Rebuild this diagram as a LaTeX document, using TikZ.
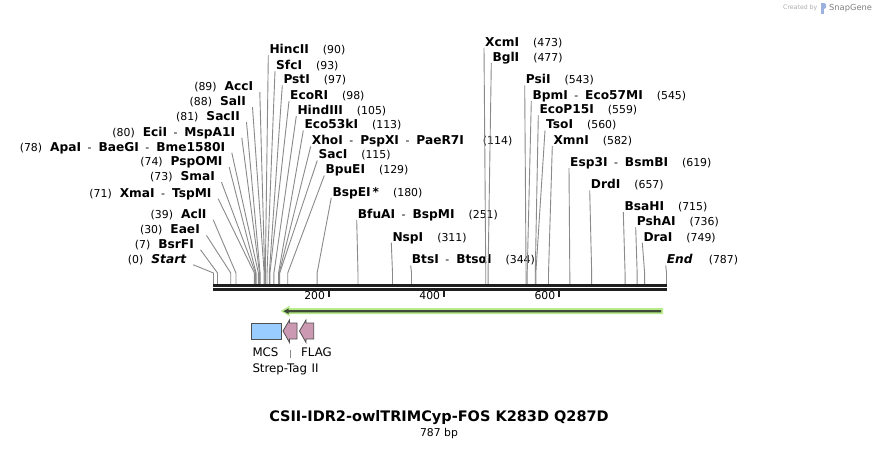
\documentclass[tikz,border=0pt]{standalone}
\usepackage{fontspec}
\setmainfont{DejaVu Sans}
\definecolor{linegray}{HTML}{8A8A8A}
\definecolor{halo}{RGB}{183,235,140}
\definecolor{darkline}{HTML}{3E4A36}
\definecolor{mcsblue}{HTML}{99CCFF}
\definecolor{flagpink}{HTML}{CC99B2}
\definecolor{outl}{HTML}{505050}
\newcommand{\bpn}[1]{{\fontsize{10.9}{12}\selectfont #1}}
\newcommand{\sepdash}{\hspace{6.5pt}{\mdseries\fontsize{10.9}{12}\selectfont -}\hspace{7pt}}
\newcommand{\LSite}[5]{%
  \node[llab] (#1) at ({#2+6.5},#3) {#4};
  \coordinate (#1c) at ({213.5+#5*0.5756},273);
  \coordinate (#1b) at ({213.5+#5*0.5756},284);
  \draw[conn] (#1.south east) -- (#1c) -- (#1b);}
\newcommand{\RSite}[5]{%
  \node[rlab] (#1) at ({#2-1},#3) {#4};
  \coordinate (#1c) at ({213.5+#5*0.5756},273);
  \coordinate (#1b) at ({213.5+#5*0.5756},284);
  \draw[conn] (#1.south west) -- (#1c) -- (#1b);}
\tikzset{
  lab/.style={inner ysep=0pt, text height=9pt, text depth=1.5pt, font=\fontsize{12.2}{13}\selectfont},
  rlab/.style={lab, anchor=west, inner xsep=1pt},
  llab/.style={lab, anchor=east, inner xsep=6.5pt},
  conn/.style={draw=linegray, line width=0.9pt},
  featlab/.style={anchor=west, inner sep=0pt, font=\fontsize{11.8}{13}\selectfont},
  ticklab/.style={anchor=east, inner sep=0pt, font=\fontsize{10.8}{12}\selectfont},
}
\begin{document}
\begin{tikzpicture}[x=1pt,y=-1pt]
\useasboundingbox (0,0) rectangle (880,450);
\fill[white] (0,0) rectangle (880,450);

% left-hand labels
\LSite{l1}{253.3}{86.7}{\bpn{(89)}\hspace{8pt}\textbf{AccI}}{89}
\LSite{l2}{246}{101.7}{\bpn{(88)}\hspace{8pt}\textbf{SalI}}{88}
\LSite{l3}{240}{116.7}{\bpn{(81)}\hspace{8pt}\textbf{SacII}}{81}
\LSite{l4}{235.3}{132.3}{\bpn{(80)}\hspace{8pt}\textbf{EciI}\sepdash\textbf{MspA1I}}{80}
\LSite{l5}{225.3}{147.3}{\bpn{(78)}\hspace{8pt}\textbf{ApaI}\sepdash\textbf{BaeGI}\sepdash\textbf{Bme1580I}}{78}
\LSite{l6}{222.7}{161.7}{\bpn{(74)}\hspace{8pt}\textbf{PspOMI}}{74}
\LSite{l7}{215}{176.7}{\bpn{(73)}\hspace{8pt}\textbf{SmaI}}{73}
\LSite{l8}{211.7}{193.3}{\bpn{(71)}\hspace{8pt}\textbf{XmaI}\sepdash\textbf{TspMI}}{71}
\LSite{l9}{206.7}{214.3}{\bpn{(39)}\hspace{8pt}\textbf{AclI}}{39}
\LSite{l10}{200}{230}{\bpn{(30)}\hspace{8pt}\textbf{EaeI}}{30}
\LSite{l11}{194}{244.3}{\bpn{(7)}\hspace{8pt}\textbf{BsrFI}}{7}
\LSite{l12}{186.7}{259.3}{\bpn{(0)}\hspace{8pt}\textbf{\itshape Start}}{0}

% right-hand labels
\RSite{r1}{269.3}{50}{\textbf{HincII}\hspace{14pt}\bpn{(90)}}{90}
\RSite{r2}{276}{65.7}{\textbf{SfcI}\hspace{14pt}\bpn{(93)}}{93}
\RSite{r3}{283.3}{80}{\textbf{PstI}\hspace{14pt}\bpn{(97)}}{97}
\RSite{r4}{290}{95.7}{\textbf{EcoRI}\hspace{14pt}\bpn{(98)}}{98}
\RSite{r5}{297.3}{110.7}{\textbf{HindIII}\hspace{14pt}\bpn{(105)}}{105}
\RSite{r6}{304.3}{125}{\textbf{Eco53kI}\hspace{14pt}\bpn{(113)}}{113}
\RSite{r7}{311.7}{141}{\textbf{XhoI}\sepdash\textbf{PspXI}\sepdash\textbf{PaeR7I}\hspace{19pt}\bpn{(114)}}{114}
\RSite{r8}{318.3}{155}{\textbf{SacI}\hspace{14pt}\bpn{(115)}}{115}
\RSite{r9}{325.3}{170}{\textbf{BpuEI}\hspace{14pt}\bpn{(129)}}{129}
\RSite{r10}{332.3}{192.3}{\textbf{BspEI\,*}\hspace{14pt}\bpn{(180)}}{180}
\RSite{r11}{357.7}{214.3}{\textbf{BfuAI}\sepdash\textbf{BspMI}\hspace{14pt}\bpn{(251)}}{251}
\RSite{r12}{392.3}{237.3}{\textbf{NspI}\hspace{14pt}\bpn{(311)}}{311}
\RSite{r13}{411.7}{260}{\textbf{BtsI}\sepdash\textbf{BtsαI}\hspace{14pt}\bpn{(344)}}{344}
\RSite{r14}{485}{42.3}{\textbf{XcmI}\hspace{14pt}\bpn{(473)}}{473}
\RSite{r15}{492.3}{57.7}{\textbf{BglI}\hspace{14pt}\bpn{(477)}}{477}
\RSite{r16}{525.7}{80}{\textbf{PsiI}\hspace{14pt}\bpn{(543)}}{543}
\RSite{r17}{532.3}{95.7}{\textbf{BpmI}\sepdash\textbf{Eco57MI}\hspace{14pt}\bpn{(545)}}{545}
\RSite{r18}{539.3}{110}{\textbf{EcoP15I}\hspace{14pt}\bpn{(559)}}{559}
\RSite{r19}{546}{125}{\textbf{TsoI}\hspace{14pt}\bpn{(560)}}{560}
\RSite{r20}{553.3}{140.7}{\textbf{XmnI}\hspace{14pt}\bpn{(582)}}{582}
\RSite{r21}{570}{162.7}{\textbf{Esp3I}\sepdash\textbf{BsmBI}\hspace{14pt}\bpn{(619)}}{619}
\RSite{r22}{590.7}{185}{\textbf{DrdI}\hspace{14pt}\bpn{(657)}}{657}
\RSite{r23}{624.3}{206.7}{\textbf{BsaHI}\hspace{14pt}\bpn{(715)}}{715}
\RSite{r24}{636.7}{221.7}{\textbf{PshAI}\hspace{14pt}\bpn{(736)}}{736}
\RSite{r25}{643.3}{237.3}{\textbf{DraI}\hspace{14pt}\bpn{(749)}}{749}
\RSite{r26}{666.7}{260}{\textbf{\itshape End}\hspace{16pt}\bpn{(787)}}{787}

% sequence bar
\fill[black!88] (213,284) rectangle (667,287);
\fill[black!88] (213,288) rectangle (667,291);
% scale ticks
\foreach \p/\t in {200/200,400/400,600/600}{
  \coordinate (tk\p) at ({213.5+\p*0.5756},291);
  \draw[line width=1.8pt, black!88] (tk\p) -- ++(0,6);
  \node[ticklab] at ({213.5+\p*0.5756-3.5},296) {\t};
}

% long arrow (reverse direction)
\fill[halo] (280.5,311) -- (289.5,305.8) -- (289.5,308) -- (663,308) -- (663,314) -- (289.5,314) -- (289.5,316.2) -- cycle;
\fill[darkline] (283.3,311.2) -- (288.6,308.4) -- (288.6,310) -- (661,310) -- (661,312.4) -- (288.6,312.4) -- (288.6,314) -- cycle;

% features
\draw[outl, fill=mcsblue, line width=0.8pt] (251,323) rectangle (281.5,339);
\draw[outl, fill=flagpink, line width=0.8pt] (283,331) -- (289.5,320) -- (289.5,323) -- (297,323) -- (297,339) -- (289.5,339) -- (289.5,342.5) -- cycle;
\draw[outl, fill=flagpink, line width=0.8pt] (299.5,331) -- (306,320) -- (306,323) -- (313.7,323) -- (313.7,339) -- (306,339) -- (306,342.5) -- cycle;

\node[featlab] (mcs) at (252.3,352.3) {MCS};
\node[featlab] (flag) at (301,352.3) {FLAG};
\node[featlab] (strep) at (252.3,369) {Strep-Tag\hspace{4.5pt}II};
\coordinate (stA) at (290.3,349.5);
\coordinate (stB) at (290.3,357.5);
\draw[linegray, line width=0.8pt] (stA) -- (stB);

% title
\node[inner sep=0pt, font=\bfseries\fontsize{14.5}{16}\selectfont] (title) at (439,418) {CSII-IDR2-owlTRIMCyp-FOS K283D Q287D};
\node[inner sep=0pt, font=\fontsize{10.8}{12}\selectfont] (bp) at (439,434) {787 bp};

% credit
\node[anchor=west, inner sep=0pt, text=black!32, font=\fontsize{6.2}{7}\selectfont] (cb) at (783,8) {Created by};
\fill[cyan!45!blue!40] (820.5,2.5) rectangle (823.5,13.5);
\fill[cyan!45!blue!40] (823.5,2.5) .. controls (827,2.5) and (827,9) .. (823.5,9) -- cycle;
\node[anchor=west, inner sep=0pt, text=black!50, font=\fontsize{8.3}{9}\selectfont] (sg) at (829,8) {SnapGene};
\end{tikzpicture}
\end{document}
